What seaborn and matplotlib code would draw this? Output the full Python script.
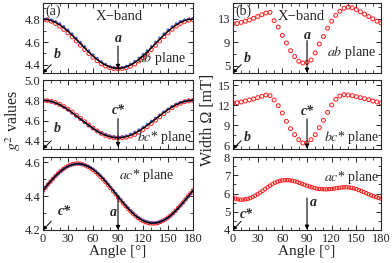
import numpy as np
import pandas as pd
import seaborn as sns
import matplotlib.pyplot as plt
from matplotlib.ticker import MultipleLocator

sns.set_style("ticks")
plt.rcParams['font.family'] = ['Liberation Serif', 'DejaVu Serif']
plt.rcParams['mathtext.fontset'] = 'stix'
plt.rcParams['xtick.direction'] = 'in'
plt.rcParams['ytick.direction'] = 'in'
plt.rcParams['xtick.top'] = True
plt.rcParams['ytick.right'] = True

# angle grids
ang5 = list(range(0, 181, 5))
ang3 = list(range(0, 181, 3))

# (a) g^2 values, ab plane
g2_ab_red = [4.795, 4.792, 4.781, 4.762, 4.738, 4.710, 4.680, 4.646, 4.609, 4.572, 4.535, 4.499, 4.466,
             4.437, 4.411, 4.391, 4.377, 4.369, 4.367, 4.369, 4.376, 4.389, 4.408, 4.434, 4.464, 4.497,
             4.534, 4.571, 4.609, 4.646, 4.680, 4.711, 4.739, 4.762, 4.780, 4.791, 4.795]
g2_ab_blue = [4.803, 4.801, 4.793, 4.780, 4.761, 4.736, 4.706, 4.672, 4.635, 4.598, 4.561, 4.524, 4.490,
              4.458, 4.430, 4.407, 4.389, 4.377, 4.373, 4.378, 4.390, 4.409, 4.432, 4.460, 4.492, 4.525,
              4.562, 4.599, 4.636, 4.672, 4.706, 4.735, 4.761, 4.781, 4.794, 4.801, 4.804]
g2_ab_fit = [4.800, 4.797, 4.787, 4.771, 4.750, 4.723, 4.693, 4.659, 4.622, 4.585, 4.548, 4.511, 4.478,
             4.447, 4.420, 4.399, 4.383, 4.373, 4.370, 4.373, 4.383, 4.399, 4.420, 4.447, 4.478, 4.511,
             4.548, 4.585, 4.622, 4.659, 4.693, 4.723, 4.750, 4.771, 4.787, 4.797, 4.800]

# (a) g^2 values, bc* plane
g2_bc_red = [4.798, 4.796, 4.789, 4.777, 4.760, 4.738, 4.712, 4.683, 4.652, 4.620, 4.588, 4.556, 4.526,
             4.498, 4.474, 4.455, 4.440, 4.432, 4.429, 4.431, 4.437, 4.448, 4.464, 4.486, 4.512, 4.541,
             4.572, 4.604, 4.637, 4.669, 4.700, 4.728, 4.752, 4.771, 4.786, 4.795, 4.798]
g2_bc_blue = [4.801, 4.797, 4.788, 4.773, 4.754, 4.731, 4.705, 4.675, 4.644, 4.612, 4.581, 4.551, 4.523,
              4.498, 4.477, 4.461, 4.449, 4.441, 4.437, 4.441, 4.451, 4.467, 4.487, 4.510, 4.536, 4.565,
              4.595, 4.626, 4.657, 4.687, 4.715, 4.740, 4.762, 4.779, 4.791, 4.798, 4.801]
g2_bc_fit = [4.800, 4.797, 4.789, 4.775, 4.757, 4.734, 4.708, 4.678, 4.647, 4.615, 4.583, 4.552, 4.523,
             4.496, 4.473, 4.455, 4.441, 4.433, 4.430, 4.433, 4.441, 4.455, 4.473, 4.496, 4.523, 4.552,
             4.583, 4.615, 4.647, 4.678, 4.708, 4.734, 4.757, 4.775, 4.789, 4.797, 4.800]

# (a) g^2 values, ac* plane (3 deg steps)
g2_ac_fit = [4.433, 4.451, 4.469, 4.486, 4.503, 4.518, 4.532, 4.545, 4.557, 4.567, 4.575, 4.581, 4.586,
             4.589, 4.590, 4.589, 4.586, 4.581, 4.575, 4.567, 4.557, 4.545, 4.532, 4.518, 4.503, 4.486,
             4.469, 4.451, 4.433, 4.415, 4.397, 4.379, 4.361, 4.344, 4.328, 4.312, 4.298, 4.285, 4.273,
             4.263, 4.255, 4.249, 4.244, 4.241, 4.240, 4.241, 4.244, 4.249, 4.255, 4.263, 4.273, 4.285,
             4.298, 4.312, 4.328, 4.344, 4.361, 4.379, 4.397, 4.415, 4.433]
g2_ac_red = [4.431, 4.449, 4.468, 4.485, 4.502, 4.518, 4.533, 4.546, 4.558, 4.568, 4.577, 4.583, 4.588,
             4.591, 4.592, 4.590, 4.586, 4.580, 4.573, 4.564, 4.554, 4.542, 4.528, 4.514, 4.499, 4.482,
             4.465, 4.447, 4.429, 4.411, 4.393, 4.376, 4.358, 4.341, 4.325, 4.310, 4.296, 4.283, 4.271,
             4.261, 4.253, 4.247, 4.242, 4.239, 4.238, 4.239, 4.242, 4.248, 4.255, 4.263, 4.273, 4.285,
             4.298, 4.313, 4.329, 4.345, 4.362, 4.380, 4.398, 4.416, 4.434]
g2_ac_blue = [4.435, 4.453, 4.470, 4.487, 4.503, 4.518, 4.531, 4.544, 4.556, 4.566, 4.574, 4.580, 4.585,
              4.588, 4.589, 4.588, 4.586, 4.582, 4.576, 4.569, 4.560, 4.548, 4.535, 4.521, 4.506, 4.489,
              4.472, 4.454, 4.436, 4.418, 4.400, 4.382, 4.364, 4.347, 4.331, 4.315, 4.301, 4.288, 4.276,
              4.266, 4.258, 4.252, 4.247, 4.244, 4.243, 4.243, 4.246, 4.250, 4.256, 4.264, 4.273, 4.284,
              4.297, 4.311, 4.326, 4.342, 4.359, 4.377, 4.395, 4.413, 4.431]

# (b) line width
w_ab = [12.2, 12.2, 12.4, 12.6, 12.8, 13.1, 13.4, 13.7, 14.0, 14.1, 12.7, 11.6, 10.2, 8.9, 7.6, 6.6,
        5.8, 5.5, 5.6, 6.0, 7.2, 8.7, 10.0, 11.4, 12.6, 13.6, 14.3, 14.8, 15.0, 14.9, 14.6, 14.2,
        13.8, 13.4, 13.0, 12.6, 12.3]
w_bc = [12.3, 12.35, 12.45, 12.6, 12.75, 12.9, 13.1, 13.3, 13.5, 13.4, 12.75, 11.9, 10.8, 9.55, 8.45,
        7.55, 6.8, 6.3, 6.3, 6.8, 7.55, 8.6, 9.7, 10.9, 12.0, 12.85, 13.35, 13.55, 13.5, 13.4, 13.25,
        13.1, 12.95, 12.8, 12.6, 12.45, 12.3]
w_ac = [5.76, 5.72, 5.68, 5.66, 5.66, 5.68, 5.71, 5.75, 5.81, 5.88, 5.96, 6.05, 6.14, 6.24, 6.34, 6.43,
        6.52, 6.59, 6.65, 6.69, 6.72, 6.73, 6.73, 6.72, 6.70, 6.67, 6.63, 6.58, 6.53, 6.48, 6.43, 6.38,
        6.34, 6.30, 6.27, 6.25, 6.24, 6.23, 6.23, 6.24, 6.25, 6.27, 6.29, 6.31, 6.33, 6.34, 6.34, 6.33,
        6.31, 6.28, 6.24, 6.19, 6.14, 6.08, 6.02, 5.96, 5.90, 5.85, 5.80, 5.76, 5.72]

W, H = 392, 263
fig = plt.figure(figsize=(W / 100, H / 100), dpi=100)


def box(x0, x1, y0, y1):
    return [x0 / W, 1 - y1 / H, (x1 - x0) / W, (y1 - y0) / H]


rows = [(3, 73), (80, 149), (157, 230)]
axL = [fig.add_axes(box(43, 193, *r)) for r in rows]
axR = [fig.add_axes(box(233, 381, *r)) for r in rows]

red_kw = dict(marker='o', facecolor='none', edgecolor='#ff1a1a', linewidth=0.7, zorder=2)
blue_kw = dict(marker='o', s=4, color='#3a5fd8', edgecolor='none', linewidth=0, zorder=3)

# left column
for ax, ang, red, blue, fit, sz in [(axL[0], ang5, g2_ab_red, g2_ab_blue, g2_ab_fit, 8),
                                    (axL[1], ang5, g2_bc_red, g2_bc_blue, g2_bc_fit, 8),
                                    (axL[2], ang3, g2_ac_red, g2_ac_blue, g2_ac_fit, 6)]:
    sns.scatterplot(x=ang, y=red, ax=ax, s=sz, **red_kw)
    sns.scatterplot(x=ang, y=blue, ax=ax, **blue_kw)
    sns.lineplot(x=ang, y=fit, ax=ax, color='k', lw=1.0, zorder=4)

# right column
for ax, ang, w, sz in [(axR[0], ang5, w_ab, 8), (axR[1], ang5, w_bc, 8), (axR[2], ang3, w_ac, 6)]:
    sns.scatterplot(x=ang, y=w, ax=ax, s=sz, **red_kw)

ylims = [(4.33, 4.94), (4.32, 5.0), (4.2, 4.63), (3.8, 15.7), (5.4, 15.75), (4.0, 8.0)]
yticks = [[4.4, 4.6, 4.8], [4.4, 4.6, 4.8, 5.0], [4.2, 4.4, 4.6], [5, 9, 13], [6, 9, 12, 15], [4, 5, 6, 7, 8]]
ymin = [0.1, 0.1, 0.1, 2, 1.5, 0.5]
for ax, yl, yt, mn in zip(axL + axR, ylims, yticks, ymin):
    ax.set_xlim(0, 180)
    ax.set_ylim(*yl)
    ax.xaxis.set_major_locator(MultipleLocator(30))
    ax.xaxis.set_minor_locator(MultipleLocator(10))
    ax.set_yticks(yt)
    ax.yaxis.set_minor_locator(MultipleLocator(mn, offset=yt[0] % mn))
    ax.tick_params(which='major', length=3.5, width=0.7, labelsize=9, pad=2,
                   top=True, right=True, direction='in')
    ax.tick_params(which='minor', length=2, width=0.6, top=True, right=True, direction='in')
    for s in ax.spines.values():
        s.set_linewidth(0.8)
    ax.set_xlabel('')
    ax.set_ylabel('')
    ax.grid(False)

for ax in axL[:2] + axR[:2]:
    ax.tick_params(labelbottom=False)
for ax in axL:
    ax.set_yticklabels(['%.1f' % t for t in ax.get_yticks()])

for ax in (axL[2], axR[2]):
    ax.set_xlabel('Angle [°]', fontsize=11, labelpad=0)

fig.text(3 / W, 1 - 120 / H, r'$g^2$ values', rotation=90, fontsize=11.5, ha='left', va='center')
fig.text(200 / W, 1 - 120 / H, 'Width Ω [mT]', rotation=90, fontsize=11.5, ha='left', va='center')

bi = dict(fontweight='bold', fontstyle='italic', fontsize=10)
arr = dict(arrowstyle='-|>', color='k', lw=0.8, mutation_scale=6, shrinkA=0, shrinkB=0)
corner = dict(arrowstyle='-|>', color='k', lw=0.7, mutation_scale=5, shrinkA=0, shrinkB=0)


def corner_arrow(ax, label, tx, ty):
    ax.annotate('', xy=(0.0, 0.0), xytext=(0.055, 0.12), xycoords='axes fraction',
                textcoords='axes fraction', arrowprops=corner)
    ax.text(tx, ty, label, transform=ax.transAxes, ha='center', va='center', **bi)


# (a) top
a = axL[0]
a.text(0.015, 0.88, '(a)', transform=a.transAxes, fontsize=10, va='center')
a.text(0.51, 0.80, 'X−band', transform=a.transAxes, fontsize=10.5, ha='center', va='center')
a.text(0.5, 0.50, 'a', transform=a.transAxes, ha='center', va='center', **bi)
a.annotate('', xy=(90, 4.365), xytext=(90, 4.565), arrowprops=arr)
a.text(0.79, 0.21, r'$ab$ plane', transform=a.transAxes, fontsize=10, ha='center', va='center')
corner_arrow(a, 'b', 0.095, 0.26)

# (a) middle
a = axL[1]
a.text(0.5, 0.56, 'c*', transform=a.transAxes, ha='center', va='center', **bi)
a.annotate('', xy=(90, 4.34), xytext=(90, 4.62), arrowprops=arr)
a.text(0.81, 0.17, r'$bc$* plane', transform=a.transAxes, fontsize=10, ha='center', va='center')
corner_arrow(a, 'b', 0.095, 0.30)

# (a) bottom
a = axL[2]
a.text(0.69, 0.75, r'$ac$* plane', transform=a.transAxes, fontsize=10, ha='center', va='center')
a.text(0.47, 0.24, 'a', transform=a.transAxes, ha='center', va='center', **bi)
a.annotate('', xy=(90, 4.2), xytext=(90, 4.397), arrowprops=arr)
corner_arrow(a, 'c*', 0.14, 0.26)

# (b) top
a = axR[0]
a.text(0.015, 0.88, '(b)', transform=a.transAxes, fontsize=10, va='center')
a.text(0.46, 0.80, 'X−band', transform=a.transAxes, fontsize=10.5, ha='center', va='center')
a.text(0.5, 0.53, 'a', transform=a.transAxes, ha='center', va='center', **bi)
a.annotate('', xy=(90, 3.85), xytext=(90, 9.3), arrowprops=arr)
a.text(0.80, 0.29, r'$ab$ plane', transform=a.transAxes, fontsize=10, ha='center', va='center')
corner_arrow(a, 'b', 0.10, 0.20)

# (b) middle
a = axR[1]
a.text(0.5, 0.54, 'c*', transform=a.transAxes, ha='center', va='center', **bi)
a.annotate('', xy=(90, 5.45), xytext=(90, 9.9), arrowprops=arr)
a.text(0.80, 0.16, r'$bc$* plane', transform=a.transAxes, fontsize=10, ha='center', va='center')
corner_arrow(a, 'b', 0.10, 0.17)

# (b) bottom
a = axR[2]
a.text(0.80, 0.72, r'$ac$* plane', transform=a.transAxes, fontsize=10, ha='center', va='center')
a.text(0.54, 0.38, 'a', transform=a.transAxes, ha='center', va='center', **bi)
a.annotate('', xy=(90, 4.02), xytext=(90, 5.75), arrowprops=arr)
corner_arrow(a, 'c*', 0.09, 0.21)

fig.savefig('out.png', dpi=100)
